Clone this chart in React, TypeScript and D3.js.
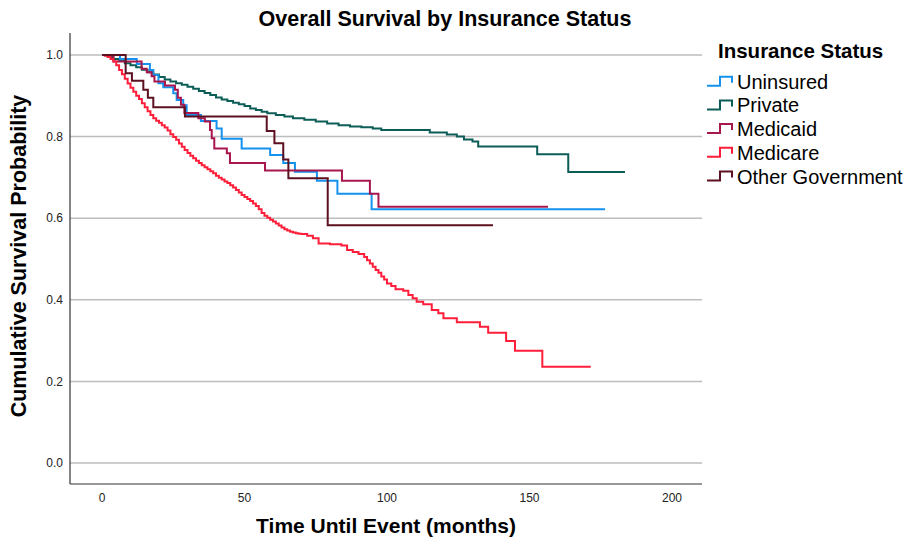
import React from "react";
import * as d3 from "d3";

const xTicks = [0, 50, 100, 150, 200];
const yTicks = [0, 0.2, 0.4, 0.6, 0.8, 1.0];

const groupNames = ["Uninsured", "Private", "Medicaid", "Medicare", "Other Government"];
const groupColors = ["#1492ee", "#0c5d57", "#a8164e", "#ff1e3a", "#5c1020"];

const uninsured: [number, number][] = [
  [0, 1], [6.3, 0.99], [12.2, 0.978], [16.8, 0.963], [18, 0.951], [19.8, 0.931], [21.5, 0.921],
  [25, 0.906], [26.2, 0.89], [28.5, 0.877], [29.7, 0.853], [34.7, 0.838], [40.2, 0.82], [42, 0.795],
  [49, 0.771], [59, 0.755], [63.6, 0.735], [67.7, 0.714], [75.4, 0.692], [82.6, 0.66], [94.6, 0.622],
  [176.5, 0.622],
];

const privateIns: [number, number][] = [
  [0, 1], [2, 0.995], [4, 0.99], [6, 0.985], [8, 0.98], [10, 0.975], [12, 0.97], [14, 0.964],
  [16, 0.958], [18, 0.952], [20, 0.946], [22, 0.94], [24, 0.935], [26, 0.931], [28, 0.927],
  [30, 0.922], [32, 0.917], [34, 0.912], [36, 0.907], [38, 0.902], [40, 0.896], [42, 0.891],
  [44, 0.887], [46, 0.883], [48, 0.879], [50, 0.875], [52, 0.869], [54, 0.865], [56, 0.861],
  [58, 0.857], [61, 0.853], [64, 0.849], [67, 0.845], [71, 0.841], [75, 0.837], [79, 0.832],
  [83, 0.828], [87, 0.825], [91, 0.823], [95, 0.82], [98, 0.816], [115, 0.81], [121, 0.805],
  [124.5, 0.8], [127, 0.793], [130, 0.788], [132, 0.776], [152.7, 0.757], [163.6, 0.713],
  [183.5, 0.713],
];

const medicaid: [number, number][] = [
  [0, 1], [4, 0.984], [13.9, 0.966], [15.7, 0.958], [17.4, 0.948], [18.4, 0.935], [22.1, 0.925],
  [25.6, 0.915], [26.6, 0.895], [27.7, 0.878], [28.9, 0.858], [33.8, 0.845], [36.1, 0.837],
  [37.9, 0.816], [38.5, 0.796], [39.4, 0.771], [43.8, 0.759], [44.9, 0.735], [57.2, 0.717],
  [84.2, 0.692], [94, 0.66], [97, 0.628], [156.5, 0.628],
];

const medicare: [number, number][] = [
  [0, 1], [1, 0.998], [2, 0.995], [3, 0.99], [4, 0.984], [5, 0.975], [6, 0.963], [7, 0.953],
  [8, 0.942], [9, 0.93], [10, 0.92], [11, 0.91], [12, 0.9], [13, 0.892], [14, 0.882], [15, 0.872],
  [16, 0.862], [17, 0.853], [18, 0.845], [19, 0.839], [20, 0.834], [21, 0.828], [22, 0.822],
  [23, 0.815], [24, 0.806], [25, 0.799], [26, 0.792], [27, 0.783], [28, 0.775], [29, 0.767],
  [30, 0.76], [31, 0.753], [32, 0.747], [33, 0.741], [34, 0.735], [35, 0.73], [36, 0.725],
  [37, 0.72], [38, 0.715], [39, 0.71], [40, 0.704], [41, 0.699], [42, 0.695], [43, 0.69],
  [44, 0.686], [45, 0.681], [46, 0.675], [47, 0.669], [48, 0.663], [49, 0.657], [50, 0.652],
  [51, 0.647], [52, 0.642], [53, 0.636], [54, 0.63], [55, 0.622], [56, 0.613], [57, 0.606],
  [58, 0.601], [59, 0.596], [60, 0.592], [61, 0.587], [62, 0.582], [63, 0.577], [64, 0.573],
  [65, 0.57], [66, 0.567], [67, 0.565], [68, 0.563], [69, 0.562], [70, 0.561], [72, 0.557],
  [74, 0.551], [76, 0.538], [80, 0.536], [84, 0.533], [86, 0.522], [88, 0.517], [90, 0.512],
  [92, 0.505], [93, 0.497], [94, 0.489], [95, 0.481], [96, 0.473], [97, 0.466], [98, 0.457],
  [99, 0.45], [100, 0.44], [101.5, 0.434], [103, 0.426], [105.7, 0.422], [107.5, 0.412],
  [109, 0.404], [110.4, 0.395], [112.7, 0.389], [115.7, 0.375], [118, 0.367], [119.8, 0.355],
  [124.5, 0.345], [132.6, 0.334], [135.5, 0.319], [141.8, 0.299], [144.9, 0.275], [154.5, 0.236],
  [171.5, 0.236],
];

const otherGov: [number, number][] = [
  [0, 1], [8.3, 0.955], [10.5, 0.937], [14.5, 0.915], [16.1, 0.895], [18, 0.872], [29.1, 0.849],
  [57.8, 0.814], [60.5, 0.784], [63.6, 0.744], [65.4, 0.698], [79.2, 0.583], [137.2, 0.583],
];

const seriesData = [uninsured, privateIns, medicaid, medicare, otherGov];

const W = 921;
const H = 544;
const FONT = "'Liberation Sans', Arial, Helvetica, sans-serif";

export default function App() {
  const x = d3.scaleLinear().domain([0, 200]).range([102, 672]);
  const y = d3.scaleLinear().domain([0, 1]).range([463, 55]);
  const axisLeft = 70;
  const axisRight = 702;
  const axisTop = 33;
  const axisBottom = 484;

  const line = d3
    .line<[number, number]>()
    .x((d) => x(d[0]))
    .y((d) => y(d[1]))
    .curve(d3.curveStepAfter);

  // Draw order: Private, Uninsured, Medicaid, Medicare, Other Government
  const drawOrder = [1, 0, 2, 3, 4];
  const legendY = [81.7, 105.4, 129.1, 152.8, 176.5];

  return (
    <svg
      width={W}
      height={H}
      style={{ position: "absolute", left: 0, top: 0, background: "#fff" }}
      fontFamily={FONT}
    >
      <rect x={0} y={0} width={W} height={H} fill="#fff" />
      <text x={445} y={26} textAnchor="middle" fontSize={21.5} fontWeight="bold" fill="#000">
        Overall Survival by Insurance Status
      </text>

      {yTicks.map((t) => (
        <g key={"gy" + t}>
          <line x1={axisLeft} x2={axisRight} y1={y(t)} y2={y(t)} stroke="#bdbdbd" strokeWidth={1.5} />
          <text x={63} y={y(t)} dy="0.35em" textAnchor="end" fontSize={12} fill="#222">
            {t.toFixed(1)}
          </text>
        </g>
      ))}

      <line x1={axisLeft} x2={axisLeft} y1={axisTop} y2={axisBottom} stroke="#333" strokeWidth={1.2} />
      <line x1={axisLeft} x2={axisRight} y1={axisBottom} y2={axisBottom} stroke="#333" strokeWidth={1.2} />

      {xTicks.map((t) => (
        <text key={"xt" + t} x={x(t)} y={502} textAnchor="middle" fontSize={12} fill="#222">
          {t}
        </text>
      ))}

      {drawOrder.map((i) => (
        <path
          key={"s" + i}
          d={line(seriesData[i]) || ""}
          fill="none"
          stroke={groupColors[i]}
          strokeWidth={2}
        />
      ))}

      <text x={386} y={533} textAnchor="middle" fontSize={21} fontWeight="bold" fill="#000">
        Time Until Event (months)
      </text>
      <text
        transform="translate(26,256) rotate(-90)"
        textAnchor="middle"
        fontSize={21.5}
        fontWeight="bold"
        fill="#000"
      >
        Cumulative Survival Probability
      </text>

      <text x={718} y={57.5} fontSize={20.5} fontWeight="bold" fill="#000">
        Insurance Status
      </text>
      {groupNames.map((name, i) => {
        const cy = legendY[i];
        return (
          <g key={"lg" + i}>
            <path
              d={`M707,${cy + 4}H720V${cy - 5}H732V${cy + 1}`}
              fill="none"
              stroke={groupColors[i]}
              strokeWidth={2}
            />
            <text x={737} y={cy} dy="0.35em" fontSize={20} fill="#000">
              {name}
            </text>
          </g>
        );
      })}
    </svg>
  );
}
